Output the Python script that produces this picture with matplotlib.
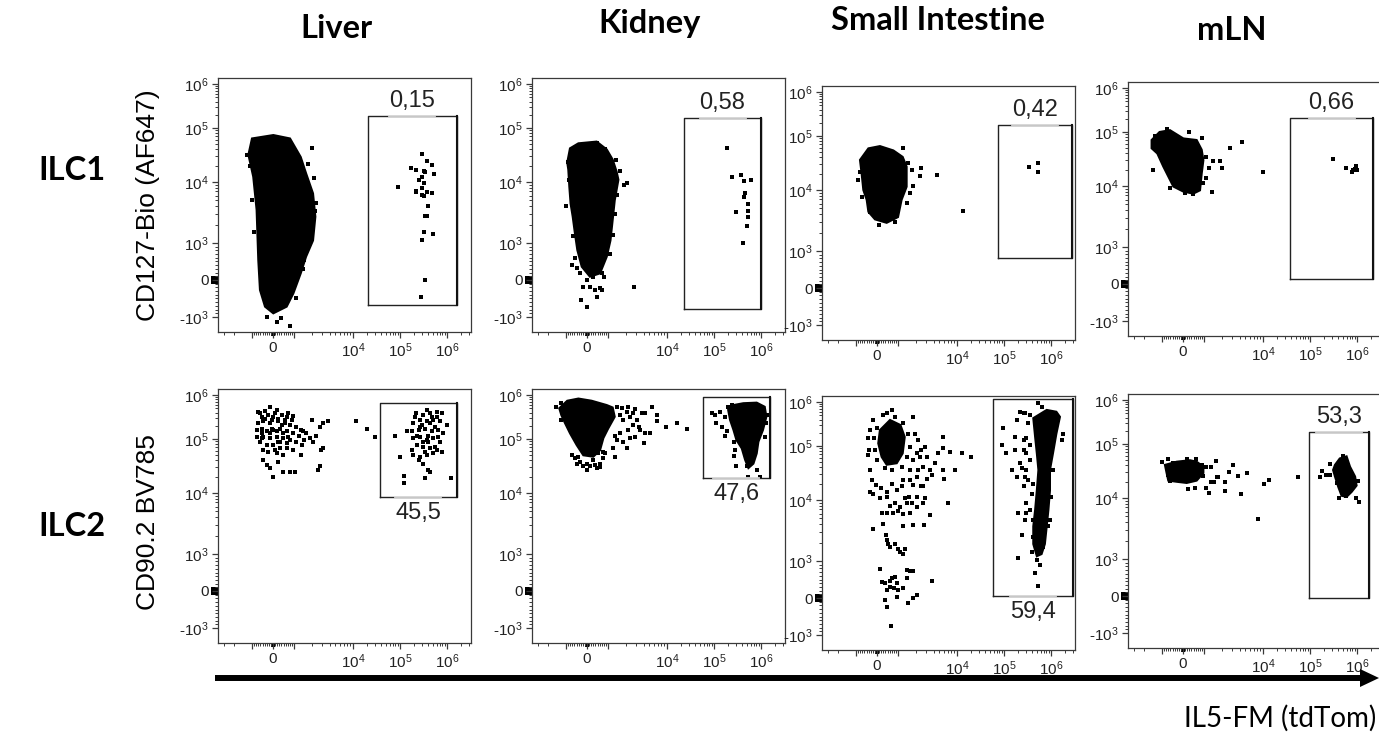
import numpy as np
import matplotlib
matplotlib.use("Agg")
import matplotlib.pyplot as plt
from matplotlib.lines import Line2D
from matplotlib.patches import Polygon, Rectangle
from matplotlib.transforms import IdentityTransform, blended_transform_factory
from matplotlib.ticker import FixedLocator, FuncFormatter, NullFormatter

plt.rcParams['font.family'] = ['Liberation Sans', 'DejaVu Sans']
plt.rcParams['mathtext.fontset'] = 'custom'
plt.rcParams['mathtext.rm'] = 'Liberation Sans'
plt.rcParams['mathtext.it'] = 'Liberation Sans:italic'
plt.rcParams['mathtext.bf'] = 'Liberation Sans:bold'

# ------------------------------------------------------------------ data
tissues = ['Liver', 'Kidney', 'Small Intestine', 'mLN']
row_names = ['ILC1', 'ILC2']
y_titles = ['CD127-Bio (AF647)', 'CD90.2 BV785']
x_title = 'IL5-FM (tdTom)'
gate_pct = [['0,15', '0,58', '0,42', '0,66'],
            ['45,5', '47,6', '59,4', '53,3']]
# gates: (x_low, x_high, y_low, y_high)
gates_ilc1 = [(2.1e4, 1.6e6, -680, 1.9e5), (2.3e4, 1.0e6, -776, 1.7e5),
              (7.5e4, 2.8e6, 811, 1.8e5), (3.8e4, 2.2e6, 135, 2.1e5)]
gates_ilc2 = [(3.8e4, 1.6e6, 8.6e3, 6.6e5), (5.8e4, 1.55e6, 1.9e4, 9.0e5),
              (5.8e4, 3.0e6, 54, 1.2e6), (9.5e4, 1.8e6, -54, 1.9e5)]
label_above = [[True, True, True, True], [False, False, False, True]]

# ---- ILC1 Liver
liv1_core_x = [-1000, 16, 810, 1300, 1600, 2100, 2300, 2100, 1600, 1300, 970, 650, 15, -380, -620, -700, -780, -940, -1150]
liv1_core_y = [6.4e4, 7.4e4, 6.4e4, 2.9e4, 1.45e4, 6.5e3, 2.7e3, 1.1e3, 630, 180, -360, -720, -900, -720, -270, 540, 3.5e3, 1.25e4, 3.2e4]
liv1_x = [2.0e3, 1.7e3, 1.6e3, 2.0e3, 2.0e3, 2.1e3, 1.9e3, 1.5e3, 810, 175, -1.2e3,
          -1.1e3, -1.0e3, -900, 2.2e3, 2.4e3, 2.3e3, 1.4e3, -300, 400, 1.1e3,
          3.0e5, 3.7e5, 4.7e5, 1.7e5, 2.2e5, 3.2e5, 3.4e5, 5.4e5, 2.9e5, 2.5e5,
          3.2e5, 9.1e4, 2.2e5, 2.9e5, 3.7e5, 4.7e5, 3.0e5, 3.2e5, 4.0e5, 3.4e5,
          3.8e5, 3.2e5, 5.1e5, 2.9e5, 3.4e5, 2.8e5, 2.2e5]
liv1_y = [4.2e4, 2.2e4, 7.9e3, 6.2e3, 4.0e3, 2.7e3, 1.6e3, 540, -1.4e3, -1.2e3, 3.2e4,
          2.0e4, 5.0e3, 1.5e3, 1.2e4, 4.5e3, 3.3e3, 300, -1.0e3, -1.05e3, -500,
          3.3e4, 2.5e4, 2.1e4, 1.8e4, 1.7e4, 1.6e4, 1.5e4, 1.4e4, 1.25e4, 1.1e4,
          9.5e3, 8.3e3, 7.2e3, 7.9e3, 6.9e3, 6.5e3, 6.2e3, 5.8e3, 4.0e3, 2.8e3,
          2.8e3, 1.5e3, 1.4e3, 1.1e3, 0, -470, 6.9e3]

# ---- ILC1 Kidney
kid1_core_x = [-810, -410, 460, 940, 1200, 1400, 1500, 1300, 1200, 1100, 940, 620, 140, -250, -460, -570, -680, -780, -840, -890, -940]
kid1_core_y = [4.2e4, 5.2e4, 5.6e4, 4.0e4, 2.6e4, 1.55e4, 1.1e4, 5.0e3, 2.4e3, 1.1e3, 630, 180, 90, 360, 810, 1.4e3, 2.7e3, 4.4e3, 8.3e3, 1.7e4, 2.3e4]
kid1_x = [-490, -330, -15, 300, 700, 140, 380, 620, 460, 700, -300, -15, 810, -175,
          -890, -840, -330, -650, -570, 1.9e3, 2.1e3, 1.4e3, 1.2e3, 2.8e3, 1.35e3, 860, 460,
          -1.0e3, 1.6e3, 1.3e3, -700, 1.1e3,
          1.9e5, 2.4e5, 3.7e5, 4.4e5, 6.0e5, 4.6e5, 4.4e5, 5.4e5, 3.0e5, 5.4e5, 5.4e5, 5.0e5, 4.2e5]
kid1_y = [316, 180, 0, 90, 180, -180, -270, -225, -450, -270, -540, -720, 90, -180,
          2.3e4, 1.1e4, 1.35e3, 1.3e3, 585, 8.9e3, 9.5e3, 6.2e3, 1.35e3, -180, 2.6e4, 4.0e4, 5.2e4,
          4.0e3, 1.6e4, 3.0e3, 400, 700,
          4.2e4, 1.25e4, 1.35e4, 1.05e4, 1.1e4, 6.5e3, 5.6e3, 4.4e3, 3.2e3, 3.3e3, 2.7e3, 1.9e3, 1.0e3]

# ---- ILC1 Small Intestine
si1_core_x = [-410, 140, 780, 1200, 1400, 1400, 1150, 1000, 460, -95, -410, -490, -650, -730, -810]
si1_core_y = [5.9e4, 6.5e4, 5.4e4, 4.1e4, 2.7e4, 1.15e4, 6.9e3, 3.6e3, 2.9e3, 3.3e3, 4.4e3, 6.9e3, 1.0e4, 2.0e4, 3.6e4]
si1_x = [1.2e3, 1.7e3, 2.5e3, 2.4e3, 4.5e3, 1.8e3, 1.4e3, 1.35e4, -810, -730, -330, 860, 460,
         -900, 1.5e3, 1.6e3, 100,
         3.4e5, 5.2e5, 5.2e5]
si1_y = [5.9e4, 2.3e4, 2.6e4, 1.8e4, 1.9e4, 1.2e4, 6.2e3, 4.6e3, 2.2e4, 7.8e3, 4.4e3, 3.0e3, 5.5e4,
         1.5e4, 3.2e4, 9.0e3, 2.7e3,
         2.7e4, 3.1e4, 2.2e4]

# ---- ILC1 mLN
mln1_core_x = [-1.5e3, -1.1e3, -620, 16, 650, 890, 970, 890, 810, 490, 16, -460, -700, -940, -1.2e3, -1.5e3]
mln1_core_y = [7.1e4, 1.0e5, 1.1e5, 7.6e4, 7.1e4, 4.7e4, 3.0e4, 1.7e4, 8.5e3, 7.5e3, 8.1e3, 9.8e3, 1.5e4, 2.3e4, 4.0e4, 5.0e4]
mln1_x = [-780, 890, 1.1e3, 1.4e3, 1.9e3, 2.0e3, 1.2e3, 970, 1.35e3, 2.8e3, 4.4e3, 1.0e4, -1.4e3, -620, 95, 490,
          -1.3e3, 1.1e3, 300,
          3.1e5, 5.8e5, 7.7e5, 8.4e5, 9.5e5, 1.0e6, 9.1e5]
mln1_y = [1.15e5, 7.6e4, 3.5e4, 2.9e4, 2.9e4, 2.2e4, 2.2e4, 1.15e4, 8.1e3, 5.0e4, 6.4e4, 1.8e4, 2.0e4, 9.1e3, 7.8e3, 7.4e3,
          8.5e4, 1.4e4, 1.0e5,
          3.1e4, 2.2e4, 1.8e4, 2.0e4, 2.3e4, 2.0e4, 2.1e4]

# ---- ILC2 Liver
liv2_core_x = []
liv2_core_y = []
liv2_x = [-700, -380, -140, 175, -540, -220, 15, 410, 650, 970, -700, -460, -140, 250, 570, 810, 1.1e3,
          -780, -540, -300, 15, 330, 650, 970, 1.3e3, -780, -460, -140, 175, 490, 810, 1.1e3,
          -300, 15, 330, 650, 970, 175, -460, -300, -140, 15, 250, 490, 810, 1.05e3, 1.3e3,
          1.4e3, 1.6e3, 2.0e3, 1.9e3, 2.1e3, 2.4e3, 2.8e3, 3.1e3, 3.8e3, 2.9e3, 3.1e3, 2.8e3, 2.6e3,
          1.35e3, 1.5e3, 1.15e4, 2.0e4, 2.9e4, 7.8e4,
          -380, -60, 250, 570, -540, -140, 175, 490, -620, 330, 650, -460, 490, -620, 730,
          95, 410, -60, 730, 250, -220, 95, -540, 890, 1.2e3,
          2.2e5, 3.1e5, 4.3e5, 6.0e5, 7.7e5, 1.9e5, 2.7e5, 3.7e5, 5.1e5, 7.1e5, 9.8e5,
          1.8e5, 2.5e5, 3.4e5, 4.7e5, 6.5e5, 8.3e5, 1.4e5, 1.9e5, 2.7e5, 3.7e5, 5.1e5, 7.1e5,
          2.3e5, 3.1e5, 4.3e5, 6.0e5, 2.7e5, 3.7e5, 5.1e5, 2.5e5, 3.1e5, 4.0e5, 4.3e5,
          1.0e5, 1.2e5, 1.2e5, 3.4e5, 1.2e6, 1.8e5, 1.9e5, 7.7e5,
          4.0e5, 5.6e5, 2.9e5, 4.7e5, 3.7e5, 6.0e5, 2.3e5, 3.1e5,
          2.7e5, 4.3e5, 6.5e5, 2.1e5, 5.6e5, 4.0e5, 3.4e5]
liv2_y = [4.2e5, 4.4e5, 5.2e5, 4.6e5, 3.2e5, 3.5e5, 3.2e5, 3.5e5, 3.2e5, 3.3e5, 2.3e5, 2.5e5, 2.3e5, 2.5e5, 2.3e5, 2.1e5, 1.9e5,
          1.6e5, 1.7e5, 1.5e5, 1.6e5, 1.7e5, 1.5e5, 1.35e5, 1.6e5, 1.1e5, 1.1e5, 1.05e5, 1.1e5, 1.05e5, 9.6e4, 8.9e4,
          7.7e4, 7.7e4, 6.7e4, 6.7e4, 6.2e4, 5.4e4, 4.1e4, 3.3e4, 2.9e4, 2.0e4, 3.8e4, 2.5e4, 2.4e4, 2.4e4, 5.0e4,
          1.5e5, 1.35e5, 2.7e5, 1.05e5, 8.9e4, 1.2e5, 1.9e5, 2.3e5, 2.5e5, 6.2e4, 6.7e4, 3.1e4, 2.7e4,
          7.7e4, 9.6e4, 2.6e5, 1.7e5, 1.1e5, 1.2e5,
          2.9e5, 2.7e5, 2.9e5, 2.7e5, 1.35e5, 1.35e5, 1.5e5, 1.35e5, 8.9e4, 8.9e4, 8.3e4, 6.2e4, 5.0e4, 3.8e5, 4.0e5,
          3.8e5, 2.1e5, 1.7e5, 1.1e5, 8.9e4, 5.8e4, 6.2e4, 1.05e5, 2.7e5, 1.2e5,
          4.0e5, 3.5e5, 3.8e5, 3.2e5, 4.0e5, 2.3e5, 2.7e5, 2.5e5, 2.7e5, 2.5e5, 2.1e5,
          1.5e5, 1.6e5, 1.7e5, 1.5e5, 1.6e5, 1.35e5, 1.5e5, 1.05e5, 1.1e5, 9.6e4, 1.05e5, 8.9e4,
          7.7e4, 7.2e4, 6.7e4, 6.2e4, 4.7e4, 5.0e4, 5.4e4, 4.1e4, 3.5e4, 2.7e4, 2.5e4,
          4.6e4, 2.1e4, 1.5e4, 1.9e4, 1.9e4, 6.2e4, 5.0e4, 5.8e4,
          1.2e5, 1.9e5, 2.1e5, 3.2e5, 4.6e5, 4.2e5, 1.2e5, 8.9e4,
          1.9e5, 2.3e5, 1.1e5, 3.2e5, 7.2e4, 8.9e4, 5.8e4]

# ---- ILC2 Kidney
kid2_core_x = [-1.3e3, -940, -410, 220, 940, 1.2e3, 1.3e3, 1.0e3, 780, 620, 300, -175, -490, -810, -1.04e3, -1.2e3,
               2.6e5, 4.2e5, 8.1e5, 1.2e6, 1.3e6, 1.1e6, 8.8e5, 8.1e5, 6.9e5, 5.4e5, 4.6e5, 3.9e5, 3.0e5, 2.6e5, 2.2e5, 2.0e5]
kid2_core_y = [5.0e5, 7.4e5, 8.3e5, 7.4e5, 5.9e5, 5.2e5, 3.2e5, 1.7e5, 1.05e5, 6.2e4, 4.7e4, 5.0e4, 7.7e4, 1.35e5, 2.3e5, 3.5e5,
               5.9e5, 6.5e5, 6.7e5, 5.4e5, 3.2e5, 1.6e5, 8.9e4, 5.4e4, 3.5e4, 2.9e4, 4.1e4, 6.7e4, 9.6e4, 1.6e5, 2.7e5, 4.6e5]
kid2_core_split = [16]
kid2_x = [-730, -570, -330, -15, 380, 620, 780, 540, 140, 15, -175, -490, -410, 300, 860, 620, 460,
          1.4e3, 1.7e3, 2.2e3, 2.9e3, 3.7e3, 4.2e3, 5.5e3, 6.7e3, 6.7e3, 5.2e3, 4.0e3, 2.9e3, 2.4e3, 2.1e3, 1.8e3,
          1.4e3, 1.3e3, 1.6e3, 2.2e3, 2.7e3, 3.3e3, 3.1e3, 2.4e3, 1.8e3, 1.6e3, 2.1e3, 2.7e3, 3.5e3, 1.3e3, 1.2e3, 780,
          9.6e3, 1.6e4, 2.7e4, 4.2e3, -1.45e3, -1.2e3, -1.2e3,
          8.9e4, 1.05e5, 1.35e5, 1.7e5, 1.1e5, 1.45e5, 1.9e5, 1.7e5, 2.6e5, 2.8e5, 2.7e5, 3.0e5, 5.0e5, 8.1e5, 9.5e5,
          5.4e5, 1.2e6, 1.3e6, 1.4e6, 4.2e5, 2.0e5, 2.4e5]
kid2_y = [5.0e4, 4.4e4, 3.8e4, 3.5e4, 3.3e4, 3.5e4, 4.4e4, 5.4e4, 3.1e4, 2.7e4, 3.2e4, 3.5e4, 4.7e4, 4.1e4, 5.4e4, 3.0e4, 2.9e4,
          5.4e5, 5.0e5, 5.4e5, 4.7e5, 3.8e5, 4.0e5, 5.4e5, 3.5e5, 2.5e5, 1.35e5, 8.3e4, 1.1e5, 1.05e5, 6.7e4, 8.9e4,
          9.6e4, 1.2e5, 1.35e5, 1.6e5, 2.1e5, 1.9e5, 2.7e5, 3.2e5, 2.7e5, 3.5e5, 4.2e5, 3.8e5, 1.6e5, 4.7e4, 6.7e4, 5.8e4,
          1.85e5, 2.3e5, 1.7e5, 1.35e5, 5.2e5, 6.5e5, 2.7e5,
          3.8e5, 3.5e5, 4.2e5, 3.2e5, 2.3e5, 1.9e5, 1.5e5, 1.2e5, 8.9e4, 6.2e4, 4.9e4, 3.1e4, 3.1e4, 2.7e4, 2.0e4,
          1.95e4, 1.1e5, 2.3e5, 3.5e5, 5.4e5, 5.4e5, 5.9e5]

# ---- ILC2 Small Intestine
si2_core_x = [140, 620, 1100, 1300, 1200, 940, 460, 220, 60,
              4.2e5, 8.1e5, 1.3e6, 1.55e6, 1.3e6, 1.1e6, 9.5e5, 9.5e5, 8.8e5, 8.1e5, 7.4e5, 6.3e5, 5.0e5, 4.2e5, 4.2e5, 4.6e5, 5.0e5, 5.4e5, 5.0e5, 4.6e5]
si2_core_y = [2.3e5, 3.9e5, 3.0e5, 1.6e5, 7.3e4, 4.8e4, 4.5e4, 6.3e4, 1.15e5,
              4.3e5, 6.6e5, 6.0e5, 4.6e5, 1.9e5, 7.3e4, 3.6e4, 1.5e4, 6.9e3, 3.7e3, 1.9e3, 1.3e3, 1.2e3, 1.9e3, 3.7e3, 6.9e3, 1.5e4, 3.6e4, 7.3e4, 1.6e5]
si2_core_split = [9]
si2_x = [-330, -410, -370, -410, -330, -250, -48, 175, 460, 700, 940, 1.15e3, 1.2e3, 1.6e3, 1.8e3, 2.1e3, 2.5e3, 2.9e3,
         3.1e3, 2.7e3, 2.2e3, 2.1e3, 1.6e3, 1.8e3, 2.7e3, 3.1e3, 3.5e3, 3.7e3, 4.2e3, 4.8e3, 5.7e3, 5.7e3, 5.9e3, 6.0e3,
         7.5e3, 9.2e3, 1.3e4, 2.0e4, 1.8e3, 1.95e3, 2.2e3, 2.4e3,
         -330, -175, 140, 460, 620, 860, 1.1e3, 1.4e3, 1.55e3, 1.3e3, 1.7e3, 2.1e3, 2.5e3,
         220, 460, 780, 1.0e3, 1.2e3, 1.6e3, 2.1e3, 2.7e3, 2.9e3, 3.5e3, 2.8e3, 1.8e3, 1.2e3, 300, -175, 7.1e3,
         430, 460, 540, 860, 1.0e3, 1.1e3, 1.2e3, 1.3e3, 620,
         140, 220, 380, 630, 700, 860, 940, 1.0e3, 810, 460, 620, 380, 460, 970, 1.4e3, 1.6e3, 1.8e3,
         1.5e3, 1.8e3, 2.1e3, 3.7e3, 670, 1.4e3, 1.2e3,
         -175, 300, 860, 1.2e3, 1.5e3, 1.6e3, 1.4e3, 1.15e3, 700, 380, -15, -95, -140, -15, 460, 700,
         2.2e5, 1.9e5, 2.8e5, 3.6e5, 3.3e5, 1.7e5, 2.6e5, 3.0e5, 3.6e5, 2.6e5, 3.0e5, 3.6e5, 2.2e5, 2.4e5, 3.0e5,
         2.8e5, 3.3e5, 4.2e5, 3.9e5, 3.0e5, 3.6e5, 4.2e5, 3.0e5, 2.8e5, 5.0e5, 4.2e5, 5.4e5, 3.9e5, 5.0e5, 5.9e5,
         4.6e5, 5.2e5, 2.0e5, 9.7e4, 8.9e4, 1.1e5, 1.45e5, 1.9e5, 2.6e5, 2.0e5, 2.4e5, 1.7e5, 1.1e6, 1.8e6, 1.7e6,
         1.1e6, 1.0e6, 9.5e5, 8.8e5, 6.9e5, 5.4e5, 6.3e5, 2.6e5]
si2_y = [2.3e5, 1.5e5, 8.4e4, 6.8e4, 3.6e4, 2.3e4, 1.9e4, 1.65e4, 1.4e4, 2.0e4, 1.5e4, 1.8e4, 2.3e4, 3.6e4, 5.5e4, 7.3e4, 8.4e4, 9.7e4,
         6.3e4, 4.1e4, 3.6e4, 2.7e4, 2.3e4, 1.9e4, 1.8e4, 2.5e4, 3.6e4, 2.9e4, 4.8e4, 7.5e4, 1.6e5, 9.1e4, 3.6e4, 2.5e4,
         7.8e4, 3.6e4, 7.5e4, 6.3e4, 4.6e5, 1.9e5, 1.4e5, 6.3e4,
         1.4e4, 1.3e4, 1.1e4, 1.15e4, 8.0e3, 8.9e3, 7.8e3, 8.9e3, 1.15e4, 1.1e4, 8.9e3, 1.15e4, 1.8e4,
         6.1e3, 6.1e3, 6.1e3, 6.5e3, 5.9e3, 6.1e3, 7.8e3, 8.9e3, 1.1e4, 5.7e3, 3.9e3, 3.9e3, 3.7e3, 4.1e3, 3.3e3, 8.9e3,
         2.7e3, 2.2e3, 1.9e3, 1.9e3, 1.6e3, 1.4e3, 1.3e3, 1.6e3, 1.7e3,
         775, 440, 400, 470, 530, 580, 400, 220, 260, 220, 310, -54, -235, 36, 760, 730, 740,
         -145, -10, 80, 470, -760, 530, 260,
         3.9e5, 5.0e5, 4.6e5, 3.3e5, 1.9e5, 9.7e4, 6.3e4, 4.1e4, 3.6e4, 3.9e4, 5.5e4, 8.4e4, 1.5e5, 2.5e5, 5.5e5, 6.6e5,
         6.0e5, 3.9e5, 5.5e5, 5.0e5, 3.3e5, 1.6e5, 1.4e5, 1.5e5, 1.05e5, 8.4e4, 7.3e4, 5.5e4, 4.8e4, 3.9e4, 3.6e4,
         2.7e4, 2.3e4, 2.0e4, 1.3e4, 8.9e3, 6.9e3, 4.7e3, 6.1e3, 4.7e3, 3.2e3, 2.5e3, 1.9e3, 1.4e3, 1.04e3, 890,
         670, 325, 1.1e3, 2.5e5, 1.05e5, 7.5e4, 3.6e4, 2.7e4, 1.8e4, 6.1e3, 2.7e3, 8.4e4, 5.5e5, 1.9e5, 1.4e5,
         3.6e4, 1.15e4, 4.7e3, 3.7e3, 1.7e3, 9.3e5, 7.8e5, 5.5e5]

# ---- ILC2 mLN
mln2_core_x = [-860, -300, 330, 650, 970, 970, 650, 175, -300, -700, -780,
               3.4e5, 4.3e5, 6.0e5, 7.1e5, 9.1e5, 9.8e5, 7.7e5, 6.0e5, 4.7e5, 4.0e5, 3.4e5, 3.1e5]
mln2_core_y = [4.1e4, 4.7e4, 5.0e4, 4.7e4, 3.8e4, 2.9e4, 2.1e4, 1.9e4, 2.0e4, 2.1e4, 2.9e4,
               4.1e4, 5.4e4, 5.9e4, 3.8e4, 2.5e4, 1.7e4, 1.3e4, 1.05e4, 1.1e4, 1.6e4, 2.5e4, 3.3e4]
mln2_core_split = [11]
mln2_x = [-1.0e3, -700, -460, 175, 620, 890, 1.1e3, 1.3e3, 1.6e3, 1.65e3, 1.45e3, 1.3e3, 1.1e3, 1.2e3, 970,
          570, 250, -620, -700, 1.75e3, 2.3e3, 2.3e3, 2.7e3, 3.1e3, 3.7e3, 4.2e3, 5.3e3, 1.05e4, 1.35e4, 8.1e3, 5.6e4,
          1.6e5, 1.8e5, 2.2e5, 2.7e5, 2.7e5, 5.1e5, 5.8e5, 4.2e5, 9.5e5, 1.1e6, 1.07e6, 3.7e5]
mln2_y = [4.7e4, 5.2e4, 4.5e4, 5.2e4, 5.2e4, 4.1e4, 3.8e4, 3.8e4, 4.9e4, 2.5e4, 2.0e4, 2.0e4, 1.5e4, 1.25e4, 2.6e4,
          1.5e4, 1.45e4, 2.1e4, 2.7e4, 2.4e4, 1.95e4, 1.35e4, 3.0e4, 4.1e4, 2.6e4, 1.2e4, 2.9e4, 1.8e4, 2.2e4, 4.6e3, 2.4e4,
          2.5e4, 3.1e4, 2.7e4, 2.7e4, 4.2e4, 5.9e4, 1.1e4, 9.9e3, 9.9e3, 8.7e3, 2.1e4, 1.9e4]

panels = [
    [(liv1_core_x, liv1_core_y, [], liv1_x, liv1_y),
     (kid1_core_x, kid1_core_y, [], kid1_x, kid1_y),
     (si1_core_x, si1_core_y, [], si1_x, si1_y),
     (mln1_core_x, mln1_core_y, [], mln1_x, mln1_y)],
    [(liv2_core_x, liv2_core_y, [], liv2_x, liv2_y),
     (kid2_core_x, kid2_core_y, kid2_core_split, kid2_x, kid2_y),
     (si2_core_x, si2_core_y, si2_core_split, si2_x, si2_y),
     (mln2_core_x, mln2_core_y, mln2_core_split, mln2_x, mln2_y)],
]
gates = [gates_ilc1, gates_ilc2]

# ------------------------------------------------------------------ scale (biexponential display)
X_SEG = (21, 59, 47, 47)   # px: linear half-range, decades 1e3-1e4, 1e4-1e5, 1e5-1e6
Y_SEG = (37, 61, 54, 44)


def make_funcs(seg):
    lin, d1, d2, d3 = seg
    pos = np.cumsum([0, lin, d1, d2, d3, d3, d3])
    S = np.concatenate([-np.arange(6, 0, -1), np.arange(0, 7)]).astype(float)
    T = np.concatenate([-pos[:0:-1], pos]).astype(float)

    def to_s(v):
        v = np.asarray(v, float)
        a = np.abs(v)
        return np.where(a <= 1e3, v / 1e3, np.sign(v) * (1 + np.log10(np.maximum(a, 1e3) / 1e3)))

    def fwd(v):
        return np.interp(to_s(v), S, T)

    def inv(t):
        s = np.interp(np.asarray(t, float), T, S)
        a = np.abs(s)
        return np.where(a <= 1, s * 1e3, np.sign(s) * 1e3 * 10 ** (np.maximum(a, 1) - 1))
    return fwd, inv


xf, xi = make_funcs(X_SEG)
yf, yi = make_funcs(Y_SEG)

W, H = 1379, 737
fig = plt.figure(figsize=(W / 100, H / 100), dpi=100)

# pixel position of the zero point of each panel (layout)
ZERO = [[(273, 280), (587, 280), (877, 288), (1183, 284)],
        [(273, 591), (587, 591), (877, 598), (1183, 596)]]
XL, XR, YB, YT = -55, 198, -52, 202

major_vals = [-1e3, 0, 1e3, 1e4, 1e5, 1e6]
ylab = {-1e3: '-' + r'$\mathregular{10^{3}}$', 0: '0', 1e3: r'$\mathregular{10^{3}}$',
        1e4: r'$\mathregular{10^{4}}$', 1e5: r'$\mathregular{10^{5}}$', 1e6: r'$\mathregular{10^{6}}$'}
xlab = {0: '0', 1e4: r'$\mathregular{10^{4}}$', 1e5: r'$\mathregular{10^{5}}$', 1e6: r'$\mathregular{10^{6}}$'}
minor_vals = []
for k in (3, 4, 5, 6):
    for m in range(2, 10):
        minor_vals += [m * 10 ** k, -m * 10 ** k]
minor_vals += [m * 100 for m in range(-9, 10) if m != 0]
minor_vals = sorted(minor_vals)

for r in range(2):
    for c in range(4):
        x0, y0 = ZERO[r][c]
        ax = fig.add_axes([(x0 + XL) / W, 1 - (y0 - YB) / H, (XR - XL) / W, (YT - YB) / H])
        ax.set_xscale('function', functions=(xf, xi))
        ax.set_yscale('function', functions=(yf, yi))
        ax.set_xlim(float(xi(XL)), float(xi(XR)))
        ax.set_ylim(float(yi(YB)), float(yi(YT)))
        for sp in ax.spines.values():
            sp.set_color('#3a3a3a')
            sp.set_linewidth(0.9)
        ax.xaxis.set_major_locator(FixedLocator(major_vals))
        ax.yaxis.set_major_locator(FixedLocator(major_vals))
        ax.xaxis.set_minor_locator(FixedLocator(minor_vals))
        ax.yaxis.set_minor_locator(FixedLocator(minor_vals))
        ax.xaxis.set_major_formatter(FuncFormatter(lambda v, p: xlab.get(v, '')))
        ax.yaxis.set_major_formatter(FuncFormatter(lambda v, p: ylab.get(v, '')))
        ax.xaxis.set_minor_formatter(NullFormatter())
        ax.yaxis.set_minor_formatter(NullFormatter())
        ax.tick_params(which='major', direction='out', length=4, width=0.9, color='#3a3a3a',
                       labelsize=11, pad=2.5, labelcolor='#222222')
        ax.tick_params(which='minor', direction='out', length=2.2, width=0.7, color='#3a3a3a')
        # dense tick block at zero
        bx = blended_transform_factory(ax.transData, ax.transAxes)
        by = blended_transform_factory(ax.transAxes, ax.transData)
        ax.add_patch(Rectangle((-100, -4 / 254), 200, 4 / 254, transform=bx, color='k', clip_on=False, lw=0))
        ax.add_patch(Rectangle((-7 / 253, -110), 7 / 253, 220, transform=by, color='k', clip_on=False, lw=0))

        core_x, core_y, split, px, py = panels[r][c]
        assert len(core_x) == len(core_y) and len(px) == len(py)
        bounds = [0] + list(split) + [len(core_x)]
        for a, b in zip(bounds[:-1], bounds[1:]):
            if b - a >= 3:
                ax.fill(core_x[a:b], core_y[a:b], color='k', lw=1.5, zorder=2)
        ax.plot(px, py, ls='none', marker='s', ms=3.0, mew=0, color='k', zorder=3)

        # gate
        gx1, gx2, gy1, gy2 = gates[r][c]
        ax.plot([gx1, gx2, gx2, gx1, gx1], [gy1, gy1, gy2, gy2, gy1], color='#222222', lw=1.0, zorder=4)
        ax.plot([gx2, gx2], [gy1, gy2], color='#111111', lw=1.5, zorder=4)
        above = label_above[r][c]
        gy = gy2 if above else gy1
        p1 = ax.transData.transform((gx1, gy))
        p2 = ax.transData.transform((gx2, gy))
        cx, cy = (p1[0] + p2[0]) / 2, p1[1]
        ax.add_line(Line2D([cx - 23, cx + 23], [cy, cy], transform=IdentityTransform(),
                           color='#d9d9d9', lw=1.3, zorder=5))
        fig.text(cx / W, (cy + (15 if above else -16)) / H, gate_pct[r][c], ha='center', va='center',
                 fontsize=17, color='#222222')

# column titles and row labels
title_pos = [(336, 28), (650, 23), (938, 20), (1232, 31)]
for name, (tx, ty) in zip(tissues, title_pos):
    fig.text(tx / W, 1 - ty / H, name, ha='center', va='center', fontsize=23.5,
             fontweight='bold', family=['Lato', 'DejaVu Sans'])
for name, ty in zip(row_names, [170, 527]):
    fig.text(72 / W, 1 - ty / H, name, ha='center', va='center', fontsize=23.5,
             fontweight='bold', family=['Lato', 'DejaVu Sans'])
for name, ty in zip(y_titles, [205, 522]):
    fig.text(148 / W, 1 - ty / H, name, ha='center', va='center', rotation=90, fontsize=19)

# x arrow and title
ay = H - 678
fig.add_artist(Line2D([215, 1366], [ay, ay], transform=IdentityTransform(), color='k', lw=4.3,
                      solid_capstyle='butt'))
fig.add_artist(Polygon([[1360, ay + 9], [1379, ay], [1360, ay - 9]], closed=True,
                       transform=IdentityTransform(), color='k', lw=0))
fig.text(1376 / W, 1 - 718 / H, x_title, ha='right', va='center', fontsize=20,
         family=['Lato', 'DejaVu Sans'])

fig.savefig('out.png', dpi=100)
